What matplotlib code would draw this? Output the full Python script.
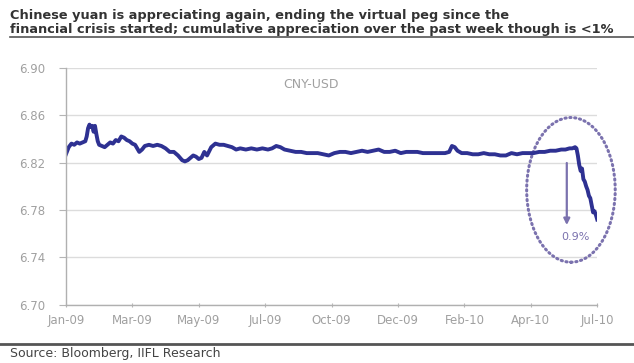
import matplotlib
matplotlib.use("Agg")
import matplotlib.pyplot as plt
from matplotlib.patches import Ellipse

plt.rcParams["font.family"] = ["DejaVu Sans"]

# Trading-day index (0 = start of Jan-09) and CNY per USD
day = [0, 2, 4, 6, 8, 10, 12, 14, 15, 16,
       17, 18, 19, 20, 21, 22, 23, 24, 26, 28,
       30, 32, 34, 36, 38, 40, 42, 44, 46, 48,
       50, 52, 53, 55, 57, 60, 63, 66, 69, 72,
       75, 78, 81, 84, 86, 88, 90, 92, 94, 96,
       98, 100, 102, 105, 108, 111, 114, 117, 120, 123,
       126, 130, 134, 138, 142, 146, 149, 152, 155, 158,
       162, 166, 170, 174, 178, 182, 186, 190, 194, 198,
       202, 206, 210, 214, 218, 222, 226, 230, 234, 238,
       242, 246, 250, 254, 258, 262, 266, 270, 274, 277,
       279, 281, 283, 286, 290, 294, 298, 302, 306, 310,
       314, 318, 322, 326, 330, 334, 338, 342, 346, 350,
       354, 358, 361, 364, 366, 368, 369, 370, 371, 372,
       373, 374, 375, 376, 377, 378, 379, 380, 381, 382,
       383, 384]
cny = [6.827, 6.833, 6.836, 6.835, 6.837, 6.836, 6.837, 6.838, 6.842, 6.849,
       6.852, 6.850, 6.851, 6.846, 6.851, 6.844, 6.838, 6.835, 6.834, 6.833,
       6.835, 6.837, 6.836, 6.839, 6.838, 6.842, 6.841, 6.839, 6.838, 6.836,
       6.835, 6.831, 6.829, 6.831, 6.834, 6.835, 6.834, 6.835, 6.834, 6.832,
       6.829, 6.829, 6.826, 6.822, 6.821, 6.822, 6.824, 6.826, 6.825, 6.823,
       6.824, 6.829, 6.826, 6.833, 6.836, 6.835, 6.835, 6.834, 6.833, 6.831,
       6.832, 6.831, 6.832, 6.831, 6.832, 6.831, 6.832, 6.834, 6.833, 6.831,
       6.830, 6.829, 6.829, 6.828, 6.828, 6.828, 6.827, 6.826, 6.828, 6.829,
       6.829, 6.828, 6.829, 6.830, 6.829, 6.830, 6.831, 6.829, 6.829, 6.830,
       6.828, 6.829, 6.829, 6.829, 6.828, 6.828, 6.828, 6.828, 6.828, 6.829,
       6.834, 6.833, 6.830, 6.828, 6.828, 6.827, 6.827, 6.828, 6.827, 6.827,
       6.826, 6.826, 6.828, 6.827, 6.828, 6.828, 6.828, 6.829, 6.829, 6.830,
       6.830, 6.831, 6.831, 6.832, 6.832, 6.833, 6.832, 6.826, 6.818, 6.813,
       6.815, 6.806, 6.804, 6.800, 6.797, 6.792, 6.790, 6.784, 6.778, 6.779,
       6.776, 6.772]

month_labels = ["Jan-09", "Mar-09", "May-09", "Jul-09", "Oct-09", "Dec-09",
                "Feb-10", "Apr-10", "Jul-10"]
tick_step = 48
y_ticks = [6.70, 6.74, 6.78, 6.82, 6.86, 6.90]
drop_label = "0.9%"

line_color = "#2E3192"
mark_color = "#7B72AE"
grey = "#A0A0A0"

fig = plt.figure(figsize=(6.34, 3.63), dpi=100)
ax = fig.add_axes([0.104, 0.160, 0.838, 0.6535])

ax.plot(day, cny, color=line_color, lw=2.8, solid_joinstyle="round")

ax.set_xlim(0, tick_step * (len(month_labels) - 1))
ax.set_ylim(y_ticks[0], y_ticks[-1])
ax.set_xticks([i * tick_step for i in range(len(month_labels))])
ax.set_xticklabels(month_labels)
ax.set_yticks(y_ticks)
ax.set_yticklabels([f"{v:.2f}" for v in y_ticks])
ax.tick_params(colors="#B5B5B5", labelcolor=grey, labelsize=8.5, width=0.8)
ax.tick_params(axis="y", length=5, pad=10)
ax.tick_params(axis="x", length=3, direction="inout", pad=5)
ax.grid(axis="y", color="#DCDCDC", lw=1)
ax.set_axisbelow(True)
for side in ("top", "right"):
    ax.spines[side].set_visible(False)
for side in ("left", "bottom"):
    ax.spines[side].set_color("#B0B0B0")
    ax.spines[side].set_linewidth(1)

ax.text(177, 6.886, "CNY-USD", color=grey, fontsize=9, ha="center",
        va="center")

# dotted ellipse around the recent move, arrow and label
ax.add_patch(Ellipse((365, 6.797), 64, 0.122, fill=False, ec=mark_color,
                     lw=2.2, ls=(0, (0.4, 1.2)), capstyle="round",
                     clip_on=False))
ax.annotate("", xy=(362, 6.765), xytext=(362, 6.822),
            arrowprops=dict(arrowstyle="-|>", color=mark_color, lw=1.6,
                            mutation_scale=9))
ax.text(368, 6.757, drop_label, color=mark_color, fontsize=8, ha="center",
        va="center")

fig.text(0.016, 0.957, "Chinese yuan is appreciating again, ending the "
         "virtual peg since the", fontsize=9.3, fontweight="bold",
         color="#333333", va="center")
fig.text(0.016, 0.918, "financial crisis started; cumulative appreciation "
         "over the past week though is <1%", fontsize=9.3,
         fontweight="bold", color="#333333", va="center")
fig.add_artist(plt.Line2D([0.016, 1.0], [0.897, 0.897], color="#555555",
                          lw=1.2))
fig.add_artist(plt.Line2D([0.0, 1.0], [0.052, 0.052], color="#555555",
                          lw=2))
fig.text(0.016, 0.025, "Source: Bloomberg, IIFL Research", fontsize=9,
         color="#444444", va="center")

fig.savefig("out.png", dpi=100, facecolor="white")
